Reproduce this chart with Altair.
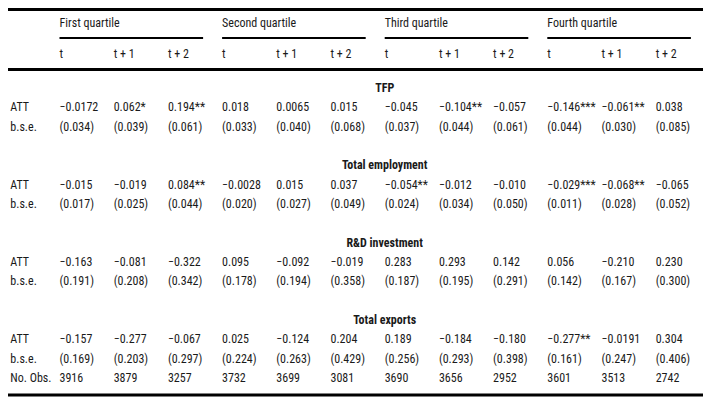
import altair as alt
import pandas as pd

# ---------------- data ----------------
quartiles = ["First quartile", "Second quartile", "Third quartile", "Fourth quartile"]
periods = ["t", "t + 1", "t + 2"]
sections = ["TFP", "Total employment", "R&D investment", "Total exports"]
row_labels = ["ATT", "b.s.e."]
obs_label = "No. Obs."

tfp_att = ["−0.0172", "0.062*", "0.194**", "0.018", "0.0065", "0.015",
           "−0.045", "−0.104**", "−0.057", "−0.146***", "−0.061**", "0.038"]
tfp_bse = ["(0.034)", "(0.039)", "(0.061)", "(0.033)", "(0.040)", "(0.068)",
           "(0.037)", "(0.044)", "(0.061)", "(0.044)", "(0.030)", "(0.085)"]
emp_att = ["−0.015", "−0.019", "0.084**", "−0.0028", "0.015", "0.037",
           "−0.054**", "−0.012", "−0.010", "−0.029***", "−0.068**", "−0.065"]
emp_bse = ["(0.017)", "(0.025)", "(0.044)", "(0.020)", "(0.027)", "(0.049)",
           "(0.024)", "(0.034)", "(0.050)", "(0.011)", "(0.028)", "(0.052)"]
rd_att = ["−0.163", "−0.081", "−0.322", "0.095", "−0.092", "−0.019",
          "0.283", "0.293", "0.142", "0.056", "−0.210", "0.230"]
rd_bse = ["(0.191)", "(0.208)", "(0.342)", "(0.178)", "(0.194)", "(0.358)",
          "(0.187)", "(0.195)", "(0.291)", "(0.142)", "(0.167)", "(0.300)"]
exp_att = ["−0.157", "−0.277", "−0.067", "0.025", "−0.124", "0.204",
           "0.189", "−0.184", "−0.180", "−0.277**", "−0.0191", "0.304"]
exp_bse = ["(0.169)", "(0.203)", "(0.297)", "(0.224)", "(0.263)", "(0.429)",
           "(0.256)", "(0.293)", "(0.398)", "(0.161)", "(0.247)", "(0.406)"]
n_obs = ["3916", "3879", "3257", "3732", "3699", "3081",
         "3690", "3656", "2952", "3601", "3513", "2742"]

section_values = [(tfp_att, tfp_bse), (emp_att, emp_bse), (rd_att, rd_bse), (exp_att, exp_bse)]

# ---------------- tables ----------------
cols = [f"{q}|{p}" for q in quartiles for p in periods]
x_domain = ["label"] + cols + ["end"]

row_domain = []
labels = []
body = []
sec_rows = []
for s, (a, b) in zip(sections, section_values):
    hk, ak, bk = f"{s}|h", f"{s}|ATT", f"{s}|bse"
    row_domain += [hk, ak, bk]
    sec_rows.append({"col": cols[6], "row": hk, "text": s})
    for key, lab, vals in [(ak, row_labels[0], a), (bk, row_labels[1], b)]:
        labels.append({"col": "label", "row": key, "text": lab})
        for c, v in zip(cols, vals):
            body.append({"col": c, "row": key, "text": v})
    if s != sections[-1]:
        row_domain.append(f"{s}|gap")
row_domain.append("obs")
labels.append({"col": "label", "row": "obs", "text": obs_label})
for c, v in zip(cols, n_obs):
    body.append({"col": c, "row": "obs", "text": v})

head = []
for q in quartiles:
    head.append({"col": f"{q}|{periods[0]}", "row": "q", "text": q})
    for p in periods:
        head.append({"col": f"{q}|{p}", "row": "p", "text": p})

under = []
for i, q in enumerate(quartiles):
    nxt = f"{quartiles[i+1]}|{periods[0]}" if i + 1 < len(quartiles) else "end"
    under.append({"start": f"{q}|{periods[0]}", "stop": nxt})

body_df = pd.DataFrame(body)
label_df = pd.DataFrame(labels)
sec_df = pd.DataFrame(sec_rows)
head_df = pd.DataFrame(head)
under_df = pd.DataFrame(under)

# ---------------- chart ----------------
W, H = 695, 390
FONT = "Roboto Condensed, Roboto, sans-serif"
INK = "#1a1a1a"
FS = 12

xs = alt.Scale(type="point", domain=x_domain, range=[-2.7, 701.9], padding=0)
y_body = alt.Scale(type="point", domain=row_domain, range=[80, 370], padding=0)
y_head = alt.Scale(type="point", domain=["q", "p"], range=[15, 46], padding=0)

def text_layer(df, yscale, **kw):
    style = dict(align="left", baseline="middle", font=FONT, fontSize=FS, color=INK)
    style.update(kw)
    return alt.Chart(df).mark_text(**style).encode(
        x=alt.X("col:N", scale=xs, axis=None),
        y=alt.Y("row:N", scale=yscale, axis=None),
        text="text:N",
    )

body_layer = text_layer(body_df, y_body)
label_layer = text_layer(label_df, y_body, dx=5)
sec_layer = text_layer(sec_df, y_body, align="center", fontWeight="bold")
head_layer = text_layer(head_df, y_head)

under_layer = alt.Chart(under_df).mark_rule(
    color="black", strokeWidth=1.8, x2Offset=-19
).encode(
    x=alt.X("start:N", scale=xs, axis=None),
    x2="stop:N",
    y=alt.value(30),
)

def hline(yv, sw):
    return alt.Chart(under_df.head(1)).mark_rule(color="black", strokeWidth=sw).encode(
        x=alt.value(0), x2=alt.value(697), y=alt.value(yv)
    )

chart = alt.layer(
    hline(1.5, 3), hline(61.5, 3), hline(387, 3),
    under_layer, head_layer, sec_layer, body_layer, label_layer,
).resolve_scale(y="independent").properties(
    width=W, height=H, padding=0,
    autosize=alt.AutoSizeParams(type="none"),
).configure_view(stroke=None)

chart.save("out.html", embed_options={"renderer": "svg", "actions": False})
